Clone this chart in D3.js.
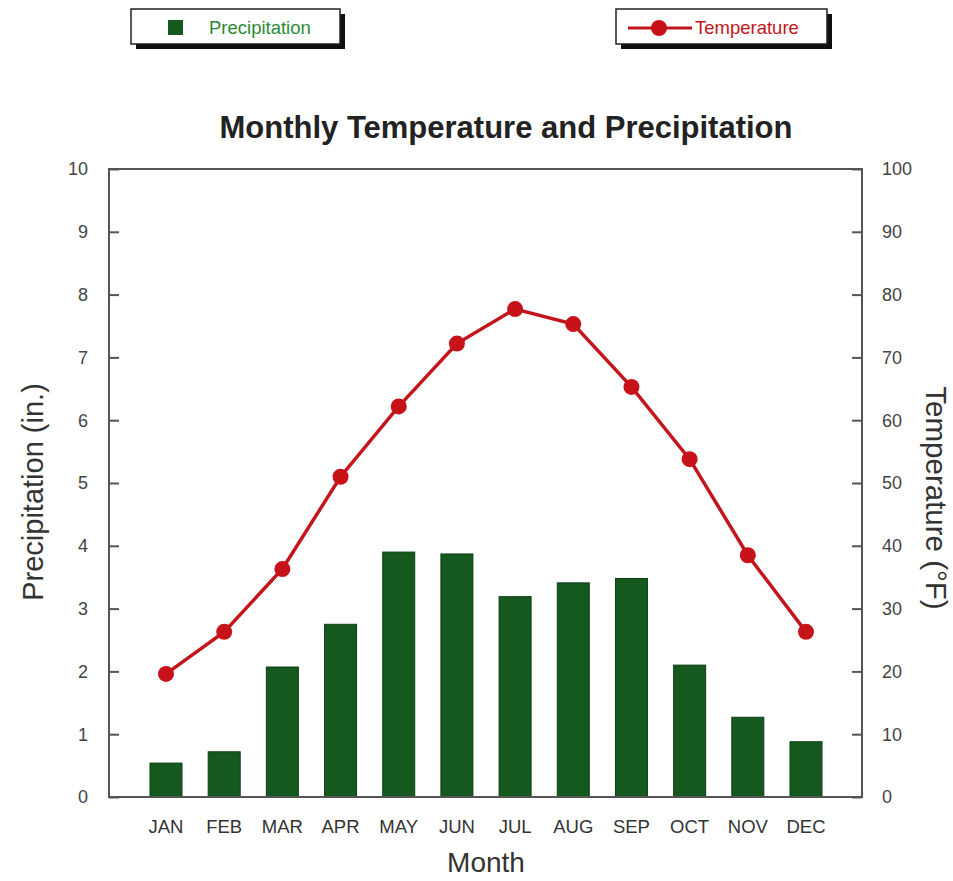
<!DOCTYPE html>
<html><head><meta charset="utf-8">
<script src="https://cdn.jsdelivr.net/npm/d3@7"></script>
<style>body{margin:0;background:#fff;} svg text{font-family:"Liberation Sans",Arial,sans-serif;}</style>
</head><body><svg id="c" width="953" height="881"></svg>
<script>
const months = ["JAN","FEB","MAR","APR","MAY","JUN","JUL","AUG","SEP","OCT","NOV","DEC"];
const precipitation = [0.54,0.72,2.07,2.75,3.90,3.87,3.19,3.41,3.48,2.10,1.27,0.88];
const temperature = [19.6,26.3,36.3,51.0,62.2,72.2,77.7,75.3,65.3,53.8,38.5,26.3];
const precipTicks = [0,1,2,3,4,5,6,7,8,9,10];
const tempTicks = [0,10,20,30,40,50,60,70,80,90,100];

const svg = d3.select("#c");
const L = 109, R = 862, T = 169, B = 797;
const x = d3.scalePoint().domain(months).range([166, 806]);
const barW = x.step() * 0.55;
const yP = d3.scaleLinear().domain([0,10]).range([B, T]);
const yT = d3.scaleLinear().domain([0,100]).range([B, T]);
const axisCol = "#555";

// frame
svg.append("rect").attr("x", L).attr("y", T).attr("width", R-L).attr("height", B-T)
  .attr("fill","none").attr("stroke", axisCol).attr("stroke-width", 2);

// left ticks (inward)
const gl = svg.append("g").attr("transform", `translate(${L},0)`)
  .call(d3.axisRight(yP).tickValues(precipTicks).tickSize(10).tickFormat(""));
gl.select(".domain").remove();
gl.selectAll("line").attr("stroke", axisCol).attr("stroke-width", 2);
svg.append("g").selectAll("text").data(precipTicks).join("text")
  .attr("x", 88).attr("y", d => yP(d)).attr("dy","0.35em").attr("text-anchor","end")
  .attr("font-size", 18).attr("fill","#444").text(d => d);

// right ticks (inward)
const gr = svg.append("g").attr("transform", `translate(${R},0)`)
  .call(d3.axisLeft(yT).tickValues(tempTicks).tickSize(10).tickFormat(""));
gr.select(".domain").remove();
gr.selectAll("line").attr("stroke", axisCol).attr("stroke-width", 2);
svg.append("g").selectAll("text").data(tempTicks).join("text")
  .attr("x", 882).attr("y", d => yT(d)).attr("dy","0.35em").attr("text-anchor","start")
  .attr("font-size", 18).attr("fill","#444").text(d => d);

// bars
svg.append("g").selectAll("rect").data(precipitation).join("rect")
  .attr("x", (d,i) => x(months[i]) - barW/2).attr("width", barW)
  .attr("y", d => yP(d)).attr("height", d => yP(0) - yP(d))
  .attr("fill", "#16591f").attr("stroke","#0d3d14").attr("stroke-width",1);

// redraw bottom axis line over bars
svg.append("line").attr("x1", L).attr("x2", R).attr("y1", B).attr("y2", B)
  .attr("stroke", axisCol).attr("stroke-width", 2);

// temperature line
const line = d3.line().x((d,i) => x(months[i])).y(d => yT(d));
svg.append("path").datum(temperature).attr("d", line)
  .attr("fill","none").attr("stroke","#c3161c").attr("stroke-width",3.5);
svg.append("g").selectAll("circle").data(temperature).join("circle")
  .attr("cx", (d,i) => x(months[i])).attr("cy", d => yT(d)).attr("r", 8)
  .attr("fill","#c8121a");

// x labels
svg.append("g").selectAll("text").data(months).join("text")
  .attr("x", d => x(d)).attr("y", 833).attr("text-anchor","middle")
  .attr("font-size", 18.5).attr("fill","#333").text(d => d);

// titles
svg.append("text").attr("x", 506).attr("y", 138).attr("text-anchor","middle")
  .attr("font-size", 31).attr("font-weight","bold").attr("fill","#222")
  .text("Monthly Temperature and Precipitation");
svg.append("text").attr("x", 486).attr("y", 872).attr("text-anchor","middle")
  .attr("font-size", 28).attr("fill","#333").text("Month");
svg.append("text").attr("transform","translate(43,492) rotate(-90)").attr("text-anchor","middle")
  .attr("font-size", 29).attr("fill","#333").text("Precipitation (in.)");
svg.append("text").attr("transform","translate(926,498) rotate(90)").attr("text-anchor","middle")
  .attr("font-size", 29.5).attr("fill","#333").text("Temperature (°F)");

// legends
function legendBox(x0, y0, w, h) {
  svg.append("rect").attr("x", x0+5).attr("y", y0+5).attr("width", w).attr("height", h).attr("fill","#111");
  svg.append("rect").attr("x", x0).attr("y", y0).attr("width", w).attr("height", h)
    .attr("fill","#fff").attr("stroke","#222").attr("stroke-width",1.5);
}
legendBox(131, 9, 209, 35);
svg.append("rect").attr("x", 168).attr("y", 20).attr("width", 15).attr("height", 15).attr("fill","#16591f");
svg.append("text").attr("x", 209).attr("y", 34).attr("font-size", 18.5).attr("fill","#2a8a35").text("Precipitation");

legendBox(616, 9, 211, 35);
svg.append("line").attr("x1", 628).attr("x2", 692).attr("y1", 28).attr("y2", 28)
  .attr("stroke","#c3161c").attr("stroke-width",3);
svg.append("circle").attr("cx", 659).attr("cy", 28).attr("r", 8).attr("fill","#c8121a");
svg.append("text").attr("x", 695).attr("y", 34).attr("font-size", 18.5).attr("fill","#c3161c").text("Temperature");
</script></body></html>
